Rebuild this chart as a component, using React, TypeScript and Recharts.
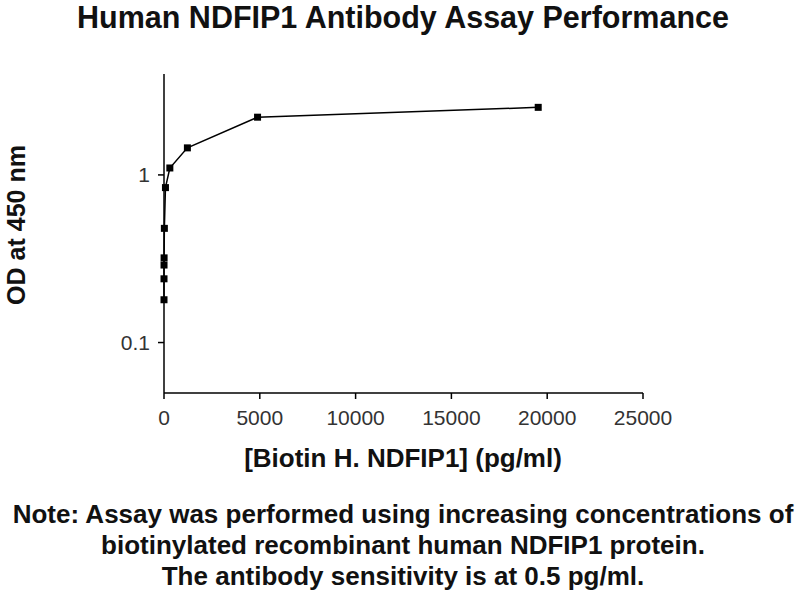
import { Line, LineChart, XAxis, YAxis } from "recharts";

const concentrations = [0.07, 0.3, 1.2, 4.8, 19, 76, 305, 1221, 4883, 19531];
const odValues = [0.18, 0.24, 0.29, 0.32, 0.48, 0.84, 1.1, 1.45, 2.21, 2.53];
const xTicks = [0, 5000, 10000, 15000, 20000, 25000];
const yTicks = [0.1, 1];
const noteLines = [
    "Note: Assay was performed using increasing concentrations of",
    "biotinylated recombinant human NDFIP1 protein.",
    "The antibody sensitivity is at 0.5 pg/ml.",
];

const FONT = '"Liberation Sans", Arial, sans-serif';

const data = concentrations.map((x, i) => ({ x, od: odValues[i] }));

const SquareDot = (props: any) => {
    const { cx, cy } = props;
    if (cx == null || cy == null) return null;
    return <rect x={cx - 3.5} y={cy - 3.5} width={7} height={7} fill="#000" />;
};

export default function App() {
    return (
        <div style={{ position: "absolute", left: 0, top: 0, width: 800, height: 600, background: "#fff" }}>
            <LineChart
                width={800}
                height={600}
                data={data}
                margin={{ top: 74, right: 157, bottom: 177, left: 104 }}
            >
                <XAxis
                    dataKey="x"
                    type="number"
                    domain={[0, 25000]}
                    ticks={xTicks}
                    height={30}
                    stroke="#000"
                    strokeWidth={1.5}
                    tickSize={6}
                    tickMargin={11}
                    tick={{ fill: "#333", fontSize: 21, fontFamily: FONT }}
                />
                <YAxis
                    dataKey="od"
                    scale="log"
                    domain={[0.05, 4]}
                    ticks={yTicks}
                    width={60}
                    stroke="#000"
                    strokeWidth={1.5}
                    tickSize={6}
                    tickMargin={8}
                    tickFormatter={(v: number) => String(v)}
                    tick={{ fill: "#333", fontSize: 21, fontFamily: FONT }}
                />
                <Line
                    type="linear"
                    dataKey="od"
                    stroke="#000"
                    strokeWidth={1.5}
                    dot={<SquareDot />}
                    activeDot={false}
                    isAnimationActive={false}
                />
            </LineChart>
            <svg width={800} height={600} style={{ position: "absolute", left: 0, top: 0, pointerEvents: "none" }}>
                <g fontFamily={FONT} fontWeight="bold" fill="#111">
                    <text x={403} y={28} fontSize={30.5} textAnchor="middle">
                        Human NDFIP1 Antibody Assay Performance
                    </text>
                    <text x={403} y={467} fontSize={26} textAnchor="middle">
                        [Biotin H. NDFIP1] (pg/ml)
                    </text>
                    <text x={25} y={225} fontSize={25} textAnchor="middle" transform="rotate(-90, 25, 225)">
                        OD at 450 nm
                    </text>
                    {noteLines.map((line, i) => (
                        <text key={i} x={403} y={523 + i * 31} fontSize={26} textAnchor="middle">
                            {line}
                        </text>
                    ))}
                </g>
            </svg>
        </div>
    );
}
